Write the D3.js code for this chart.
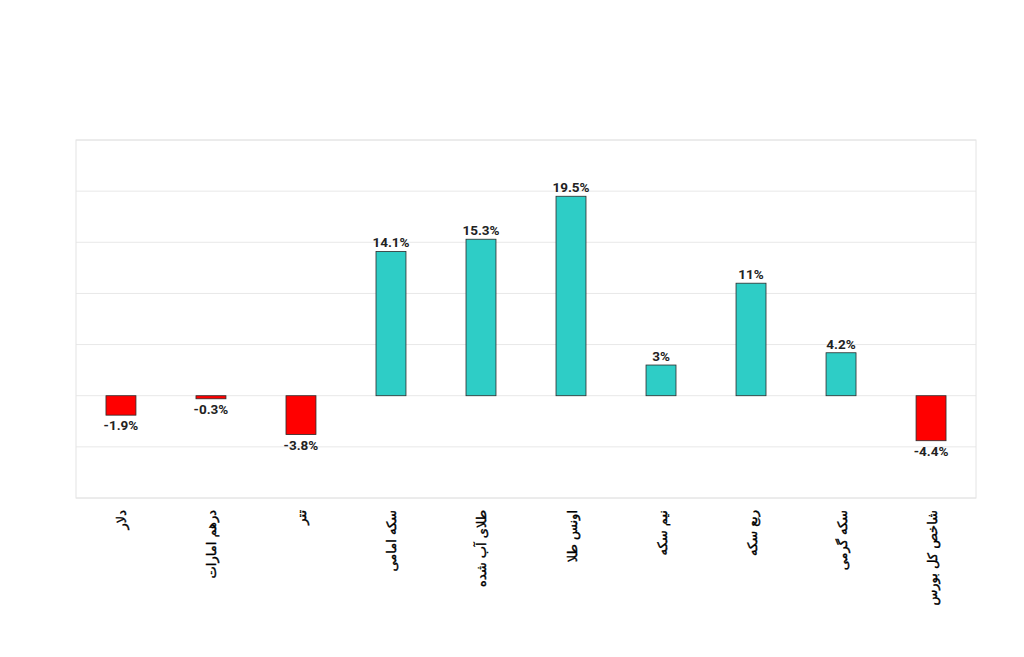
<!DOCTYPE html>
<html>
<head>
<meta charset="utf-8">
<script src="https://cdn.jsdelivr.net/npm/d3@7"></script>
<style>
  body { margin: 0; background: #fff; }
  svg { display: block; }
</style>
</head>
<body>
<div id="chart"></div>
<script>
// Chart data
const categories = ['دلار', 'درهم امارات', 'تتر', 'سکه امامی', 'طلای آب شده', 'اونس طلا', 'نیم سکه', 'ربع سکه', 'سکه گرمی', 'شاخص کل بورس'];
const changes = [-1.9, -0.3, -3.8, 14.1, 15.3, 19.5, 3, 11, 4.2, -4.4];
const valueLabels = ['-1.9%', '-0.3%', '-3.8%', '14.1%', '15.3%', '19.5%', '3%', '11%', '4.2%', '-4.4%'];
const gridTicks = [-10, -5, 0, 5, 10, 15, 20, 25];

const width = 1024;
const height = 657;
const margin = { top: 140, right: 48, bottom: 159, left: 76 };
const innerW = width - margin.left - margin.right;
const innerH = height - margin.top - margin.bottom;

const svg = d3.select('#chart')
  .append('svg')
  .attr('width', width)
  .attr('height', height);

const g = svg.append('g')
  .attr('transform', `translate(${margin.left}, ${margin.top})`);

const x = d3.scaleBand()
  .domain(categories)
  .range([0, innerW])
  .paddingInner(0.667)
  .paddingOuter(0.333);

const y = d3.scaleLinear()
  .domain([-10, 25])
  .range([innerH, 0]);

// Gridlines
g.selectAll('.grid')
  .data(gridTicks)
  .enter()
  .append('line')
  .attr('class', 'grid')
  .attr('x1', 0)
  .attr('x2', innerW)
  .attr('y1', d => y(d))
  .attr('y2', d => y(d))
  .attr('stroke', '#e8e8e8')
  .attr('stroke-width', 1);

// Plot border
g.append('rect')
  .attr('x', 0)
  .attr('y', 0)
  .attr('width', innerW)
  .attr('height', innerH)
  .attr('fill', 'none')
  .attr('stroke', '#e4e4e4');

const data = categories.map((c, i) => ({ name: c, value: changes[i], label: valueLabels[i] }));

// Bars
g.selectAll('.bar')
  .data(data)
  .enter()
  .append('rect')
  .attr('class', 'bar')
  .attr('x', d => x(d.name))
  .attr('width', x.bandwidth())
  .attr('y', d => y(Math.max(0, d.value)))
  .attr('height', d => Math.abs(y(d.value) - y(0)))
  .attr('fill', d => d.value < 0 ? '#ff0000' : '#2ecdc6')
  .attr('stroke', '#2b2b2b')
  .attr('stroke-width', 0.8);

// Value labels
g.selectAll('.value-label')
  .data(data)
  .enter()
  .append('text')
  .attr('class', 'value-label')
  .attr('x', d => x(d.name) + x.bandwidth() / 2)
  .attr('y', d => d.value < 0 ? y(d.value) + 15 : y(d.value) - 4)
  .attr('text-anchor', 'middle')
  .attr('font-family', 'Roboto, sans-serif')
  .attr('font-weight', 'bold')
  .attr('font-size', '13.5px')
  .attr('fill', '#222')
  .text(d => d.label);

// Category labels, rotated
g.selectAll('.cat-label')
  .data(categories)
  .enter()
  .append('text')
  .attr('class', 'cat-label')
  .attr('transform', d => `translate(${x(d) + x.bandwidth() / 2 + 2}, ${innerH + 12}) rotate(-90)`)
  .attr('text-anchor', 'end')
  .attr('dominant-baseline', 'middle')
  .attr('font-family', '"DejaVu Sans", sans-serif')
  .attr('font-size', '13px')
  .attr('fill', '#000')
  .attr('stroke', '#000')
  .attr('stroke-width', 0.4)
  .text(d => d);
</script>
</body>
</html>
